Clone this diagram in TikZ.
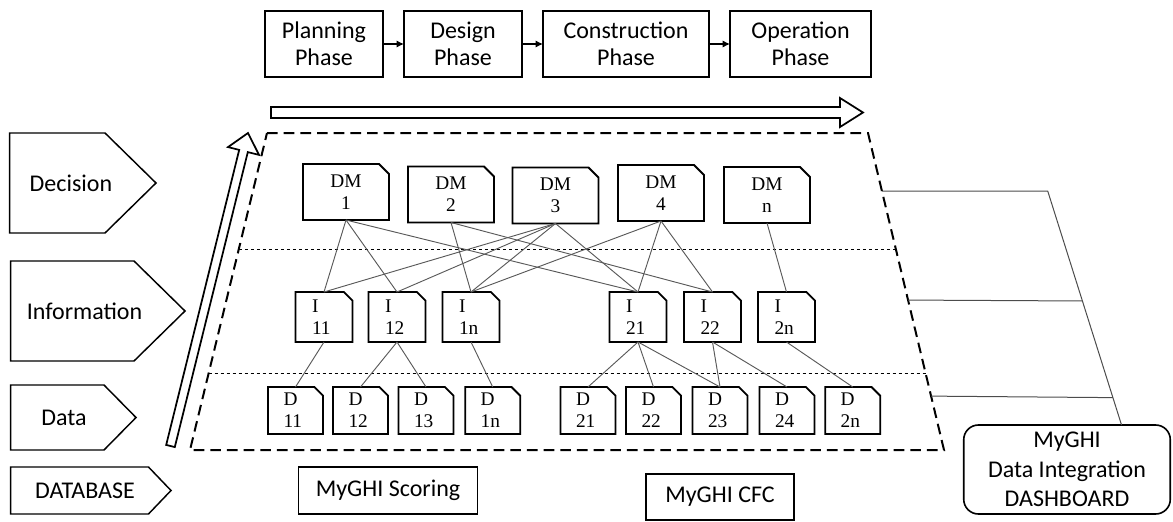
\documentclass[tikz,border=0pt]{standalone}
\usepackage{fontspec}
\setsansfont{Carlito}
\newfontfamily\dmfont{Liberation Serif}
\usetikzlibrary{arrows.meta,calc}
\newcommand\snipoutline[2]{%
  \draw[line width=1.4pt, line join=miter] (#1.south west) -- (#1.north west) -- ([xshift=-#2]#1.north east) -- ([yshift=-#2]#1.north east) -- (#1.south east) -- cycle;}
\begin{document}
\begin{tikzpicture}[x=0.75pt,y=-0.75pt,
  lbl/.style={font=\sffamily\fontsize{18}{20.5}\selectfont},
  phasebox/.style={draw, line width=1.2pt, lbl, align=center, minimum height=49.5pt, inner sep=0pt, outer sep=0pt},
  plainbox/.style={draw, line width=1.2pt, lbl, align=center, inner sep=0pt, outer sep=0pt},
  phasearrow/.style={line width=1.7pt, -{Latex[length=5.5pt,width=5.5pt]}},
  hollow/.style={line width=1.3pt, line join=miter},
  pent/.style={line width=1.1pt, line join=miter},
  trap/.style={line width=1.5pt, dash pattern=on 8pt off 4.5pt},
  sepline/.style={line width=0.7pt, dash pattern=on 2.5pt off 2pt},
  conn/.style={line width=0.7pt, black!65},
  link/.style={line width=0.75pt, black!70},
  snipbase/.style={inner sep=0pt, outer sep=0pt, font=\dmfont\fontsize{14.5}{16.5}\selectfont},
  dmbox/.style={snipbase, minimum width=64.5pt, minimum height=42pt, align=center},
  ibox/.style={snipbase, minimum width=42.75pt, minimum height=37.5pt, text width=18pt, align=left},
  dbox/.style={snipbase, minimum width=41.25pt, minimum height=35.25pt, text width=18pt, align=left}
]
\useasboundingbox (0,0) rectangle (1173,521);

% phases
\node[phasebox, minimum width=88.5pt] (pp) at (324,44) {Planning\\Phase};
\node[phasebox, minimum width=88.5pt] (pd) at (463,44) {Design\\Phase};
\node[phasebox, minimum width=124.5pt] (pc) at (626,44) {Construction\\Phase};
\node[phasebox, minimum width=105.75pt] (po) at (800.5,44) {Operation\\Phase};
\draw[phasearrow] (pp) -- (pd);
\draw[phasearrow] (pd) -- (pc);
\draw[phasearrow] (pc) -- (po);

% hollow arrows
\draw[hollow] (271,107) -- (840,107) -- (840,98) -- (863,112.5) -- (840,127) -- (840,118) -- (271,118) -- cycle;
\draw[hollow] (166.2,444.9) -- (239.2,149.9) -- (228,147.1) -- (248,133) -- (259,154.9) -- (247.8,152.1) -- (174.8,447.1) -- cycle;

% trapezoid
\coordinate (tl) at (267,133);
\coordinate (tr) at (868,133);
\coordinate (br) at (944,450);
\coordinate (bl) at (190,450);
\draw[trap] (tl) -- (tr) -- (br) -- (bl) -- cycle;
\draw[sepline] ($(tl)!0.366!(bl)$) -- ($(tr)!0.366!(br)$);
\draw[sepline] ($(tl)!0.757!(bl)$) -- ($(tr)!0.757!(br)$);

% pentagons
\draw[pent] (9.6,133) -- (105,133) -- (156,183) -- (105,233) -- (9.6,233) -- cycle;
\draw[pent] (10.7,261) -- (134,261) -- (185,311) -- (134,361) -- (10.7,361) -- cycle;
\draw[pent] (10.7,385) -- (104,385) -- (136,417.5) -- (104,450) -- (10.7,450) -- cycle;
\draw[pent] (10.7,467) -- (148.5,467) -- (171,490.5) -- (148.5,514) -- (10.7,514) -- cycle;
\node[lbl] (ldec) at (71,183) {Decision};
\node[lbl] (linf) at (84.5,311) {Information};
\node[lbl] (ldat) at (64,418) {Data};
\node[lbl] (ldb) at (85,490.5) {DATABASE};

% DM boxes
\node[dmbox] (dm1) at (346,192) {DM\\1};
\node[dmbox] (dm2) at (451,194.5) {DM\\2};
\node[dmbox] (dm3) at (555.5,195.5) {DM\\3};
\node[dmbox] (dm4) at (661,193) {DM\\4};
\node[dmbox] (dmn) at (767,195) {DM\\n};
\foreach \n in {dm1,dm2,dm3,dm4,dmn} {\snipoutline{\n}{7.5pt}}

% I boxes
\node[ibox] (i11) at (324,317) {I\\11};
\node[ibox] (i12) at (397,317) {I\\12};
\node[ibox] (i1n) at (471,317) {I\\1n};
\node[ibox] (i21) at (638,317) {I\\21};
\node[ibox] (i22) at (712.5,317) {I\\22};
\node[ibox] (i2n) at (786.5,317) {I\\2n};
\foreach \n in {i11,i12,i1n,i21,i22,i2n} {\snipoutline{\n}{6.5pt}}

% D boxes
\node[dbox] (d11) at (295.5,410.5) {D\\11};
\node[dbox] (d12) at (360.5,410.5) {D\\12};
\node[dbox] (d13) at (426,410.5) {D\\13};
\node[dbox] (d1n) at (492.7,410.5) {D\\1n};
\node[dbox] (d21) at (588,410.5) {D\\21};
\node[dbox] (d22) at (653.5,410.5) {D\\22};
\node[dbox] (d23) at (720,410.5) {D\\23};
\node[dbox] (d24) at (787,410.5) {D\\24};
\node[dbox] (d2n) at (852.7,410.5) {D\\2n};
\foreach \n in {d11,d12,d13,d1n,d21,d22,d23,d24,d2n} {\snipoutline{\n}{6.5pt}}

% connectors DM -> I
\foreach \a/\b in {dm1/i11,dm1/i12,dm1/i21,dm2/i1n,dm2/i22,dm3/i11,dm3/i12,dm3/i1n,dm3/i21,dm4/i1n,dm4/i21,dm4/i22,dmn/i2n}
  {\draw[conn] (\a.south) -- (\b.north);}
% connectors I -> D
\foreach \a/\b in {i11/d11,i12/d12,i12/d13,i1n/d1n,i21/d21,i21/d22,i21/d23,i22/d23,i22/d24,i2n/d2n}
  {\draw[conn] (\a.south) -- (\b.north);}

% bottom boxes
\node[plainbox, minimum width=134.25pt, minimum height=35.25pt] (score) at (388,490.5) {MyGHI Scoring};
\node[plainbox, minimum width=110.6pt, minimum height=34.5pt] (cfc) at (720,497) {MyGHI CFC};
\node[plainbox, rounded corners=11pt, minimum width=154.9pt, minimum height=66.75pt, font=\sffamily\fontsize{18}{22}\selectfont] (dash) at (1067,469.5) {MyGHI\\Data Integration\\DASHBOARD};

% links to dashboard
\coordinate (k1) at (1047.7,191);
\coordinate (k4) at ([xshift=40.9pt]dash.north);
\draw[link] ($(tr)!0.183!(br)$) -- (k1) -- (k4);
\draw[link] ($(tr)!0.527!(br)$) -- ($(k1)!0.470!(k4)$);
\draw[link] ($(tr)!0.830!(br)$) -- ($(k1)!0.883!(k4)$);
\end{tikzpicture}
\end{document}
